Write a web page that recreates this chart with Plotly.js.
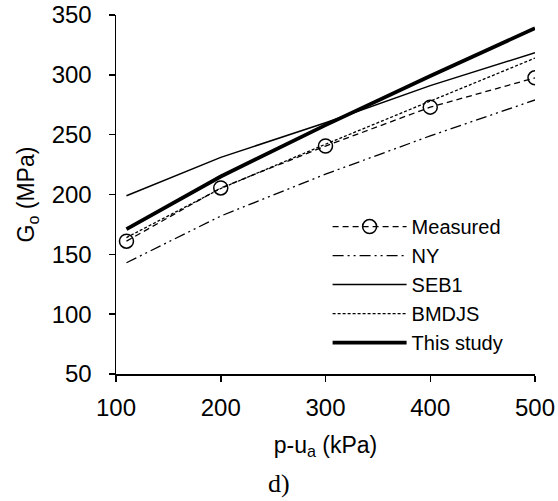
<!DOCTYPE html>
<html><head><meta charset="utf-8">
<script src="https://cdn.plot.ly/plotly-3.0.1.min.js"></script>
<style>body{margin:0;padding:0;background:#fff}#c{width:558px;height:501px}</style>
</head><body><div id="c"></div>
<script>
var pressure = [110, 200, 300, 400, 500];
var measured = [161, 205.5, 240.5, 273, 297.5];
var ny = [143, 182, 217, 249, 279];
var seb1 = [199, 231, 260, 291, 318.5];
var bmdjs = [164, 205, 242, 278, 314];
var thisStudy = [171, 215, 258, 299, 339];
var names = ["Measured", "NY", "SEB1", "BMDJS", "This study"];

var traces = [
  {x: pressure, y: measured, name: names[0], mode: "lines+markers",
   line: {color: "#000", width: 1.3, dash: "6px,4px"},
   marker: {symbol: "circle-open", size: 14, color: "#000", line: {width: 1.5, color: "#000"}}},
  {x: pressure, y: ny, name: names[1], mode: "lines",
   line: {color: "#000", width: 1.3, dash: "11px,4px,2px,4px,2px,4px"}},
  {x: pressure, y: seb1, name: names[2], mode: "lines",
   line: {color: "#000", width: 1.5}},
  {x: pressure, y: bmdjs, name: names[3], mode: "lines",
   line: {color: "#000", width: 1.3, dash: "3px,2px"}},
  {x: pressure, y: thisStudy, name: names[4], mode: "lines",
   line: {color: "#000", width: 3.8}}
];

var layout = {
  width: 558, height: 501,
  margin: {l: 116, r: 23, t: 15, b: 127},
  paper_bgcolor: "#fff", plot_bgcolor: "#fff",
  font: {family: "Liberation Sans, Arial, sans-serif", size: 24, color: "#000"},
  showlegend: true,
  legend: {x: 0.505, y: 0.465, xanchor: "left", yanchor: "top", bgcolor: "rgba(0,0,0,0)",
           font: {size: 20}, itemwidth: 74, tracegroupgap: 0},
  xaxis: {range: [100, 500], tickvals: [100, 200, 300, 400, 500], showgrid: false, zeroline: false,
          showline: true, linecolor: "#000", linewidth: 1.5, ticks: "outside", ticklen: 6,
          tickwidth: 1.5, tickcolor: "#000", ticklabelstandoff: 6,
          title: {text: "p-u<sub>a</sub> (kPa)", standoff: 16, font: {size: 23}}},
  yaxis: {range: [50, 350], tickvals: [50, 100, 150, 200, 250, 300, 350], showgrid: false, zeroline: false,
          showline: true, linecolor: "#000", linewidth: 1.5, ticks: "outside", ticklen: 6,
          tickwidth: 1.5, tickcolor: "#000", ticklabelstandoff: 12,
          title: {text: "G<sub>o</sub> (MPa)", standoff: 10, font: {size: 23}}},
  annotations: [{text: "d)", xref: "paper", yref: "paper", x: 0.39, y: -0.305, xanchor: "center",
                 yanchor: "middle", showarrow: false,
                 font: {family: "Liberation Serif, Times New Roman, serif", size: 26, color: "#000"}}]
};
Plotly.newPlot("c", traces, layout, {displayModeBar: false, staticPlot: true});
</script></body></html>
